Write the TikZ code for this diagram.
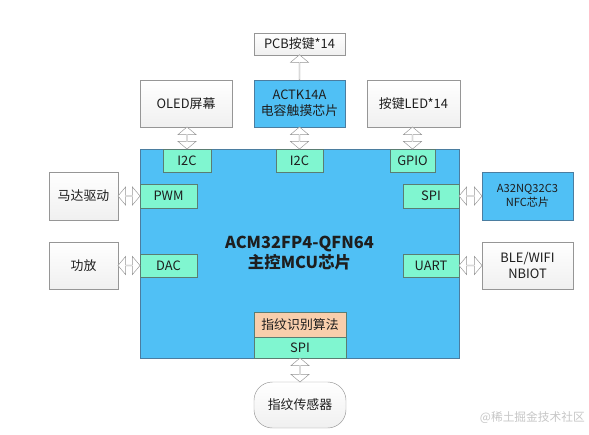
\documentclass[tikz,border=0pt]{standalone}
\usepackage{fontspec}
\setmainfont{Noto Sans CJK SC}
\usetikzlibrary{shapes.arrows}
\definecolor{mcublue}{RGB}{80,192,245}
\definecolor{portgreen}{RGB}{128,246,208}
\definecolor{algopeach}{RGB}{248,206,172}
\definecolor{boxline}{RGB}{150,150,150}
\definecolor{blueline}{RGB}{75,125,160}
\definecolor{portline}{RGB}{90,125,115}
\definecolor{txt}{RGB}{30,30,30}
\begin{document}
\begin{tikzpicture}[
x=0.3mm, y=-0.3mm,
every node/.style={inner sep=0pt, text=txt, font=\fontsize{11}{13}\selectfont},
sz/.style 2 args={minimum width=#1*0.3mm, minimum height=#2*0.3mm},
whitebox/.style={draw=boxline, top color=white, bottom color=gray!12, align=center},
bluebox/.style={draw=blueline, fill=mcublue, align=center},
port/.style={draw=portline, fill=portgreen},
algo/.style={draw=portline, fill=algopeach},
dblarrow/.style={double arrow, draw=boxline, fill=white, minimum width=5.4mm,
  double arrow head extend=1.2mm, double arrow tip angle=100, minimum height=#1},
onearrow/.style={single arrow, draw=boxline, fill=white, minimum width=5.4mm,
  single arrow head extend=1.2mm, single arrow tip angle=100, minimum height=#1}
]
\useasboundingbox (0,0) rectangle (589,434);
% main chip
\node[bluebox, sz={319}{209}, font=\bfseries\fontsize{14}{17}\selectfont] (mcu) at (299.5,253.5)
  {ACM32FP4-QFN64\\主控MCU芯片};
% ports
\node[port, sz={48}{23}] (i2ca) at (187,160.5) {I2C};
\node[port, sz={47}{23}] (i2cb) at (299.5,160.5) {I2C};
\node[port, sz={45}{23}] (gpio) at (412.5,160.5) {GPIO};
\node[port, sz={57}{24}] (pwm) at (168.5,196) {PWM};
\node[port, sz={57}{23}] (dac) at (168.5,265.5) {DAC};
\node[port, sz={56}{24}] (spia) at (431,196) {SPI};
\node[port, sz={56}{23}] (uart) at (431,265.5) {UART};
\node[algo, sz={92}{25}] (algo) at (300,324.5) {指纹识别算法};
\node[port, sz={92}{21}] (spib) at (300,347.5) {SPI};
% outside parts
\node[whitebox, sz={91}{22}] (pcb) at (299.5,44) {PCB按键*14};
\node[whitebox, sz={92}{47}] (oled) at (186,103.5) {OLED屏幕};
\node[bluebox, sz={91}{47}, font=\fontsize{11}{14}\selectfont] (actk) at (299.5,103.5) {ACTK14A\\电容触摸芯片};
\node[whitebox, sz={93}{47}] (led) at (413.5,103.5) {按键LED*14};
\node[whitebox, sz={69}{48}] (motor) at (83.5,196) {马达驱动};
\node[whitebox, sz={69}{47}] (amp) at (83.5,265.5) {功放};
\node[bluebox, sz={91}{48}, font=\fontsize{9.5}{12}\selectfont] (nfc) at (527.5,196) {A32NQ32C3\\NFC芯片};
\node[whitebox, sz={91}{47}, font=\fontsize{11}{14}\selectfont] (ble) at (527.5,265.5) {BLE/WIFI\\NBIOT};
\node[whitebox, rounded corners=5.5mm, sz={92}{46}] (finger) at (300,405) {指纹传感器};
% arrows
\path (oled.south -| i2ca) -- node[dblarrow=6.6mm, rotate=90] {} (i2ca.north);
\path (actk.south -| i2cb) -- node[dblarrow=6.6mm, rotate=90] {} (i2cb.north);
\path (led.south -| gpio) -- node[dblarrow=6.6mm, rotate=90] {} (gpio.north);
\path (actk.north) -- node[onearrow=7.5mm, rotate=90] {} (pcb.south);
\path (motor.east) -- node[dblarrow=6.6mm] {} (pwm.west);
\path (amp.east) -- node[dblarrow=6.6mm] {} (dac.west);
\path (spia.east) -- node[dblarrow=6.9mm] {} (nfc.west);
\path (uart.east) -- node[dblarrow=6.9mm] {} (ble.west);
\path (spib.south) -- node[dblarrow=7.2mm, rotate=90] {} (finger.north);
% watermark
\node[anchor=east, text=gray!45, font=\fontsize{10}{12}\selectfont] (mark) at (585,418) {@稀土掘金技术社区};
\end{tikzpicture}
\end{document}
